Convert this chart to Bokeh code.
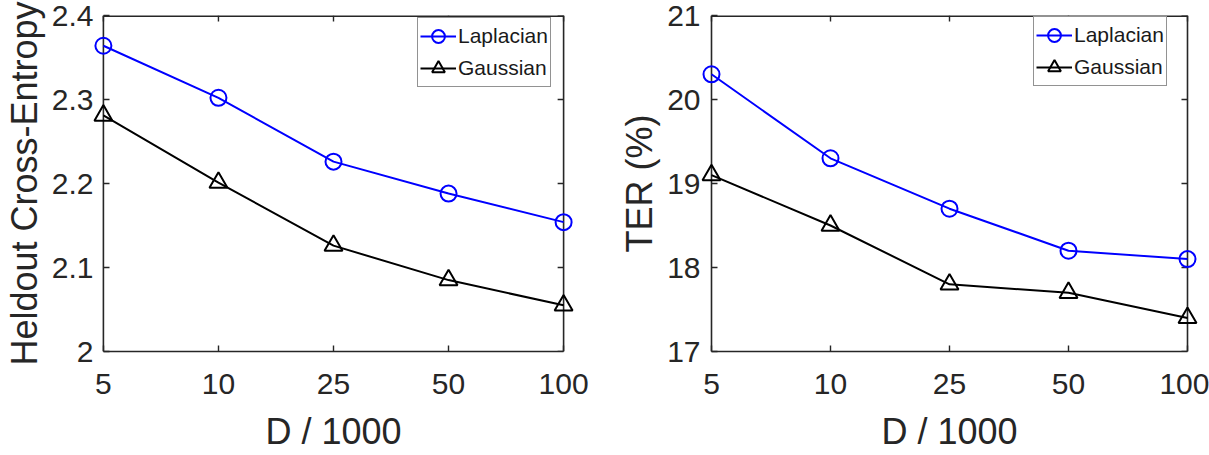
from bokeh.plotting import figure
from bokeh.models import Range1d, FixedTicker, Legend, LegendItem, Span
from bokeh.layouts import row
from bokeh.embed import file_html
from bokeh.resources import INLINE

# ---- data ----
d_labels = ["5", "10", "25", "50", "100"]
ce_laplacian = [2.364, 2.302, 2.226, 2.188, 2.154]
ce_gaussian = [2.281, 2.201, 2.126, 2.085, 2.055]
ter_laplacian = [20.30, 19.30, 18.70, 18.20, 18.10]
ter_gaussian = [19.10, 18.50, 17.80, 17.70, 17.40]
ce_ticks = [2.0, 2.1, 2.2, 2.3, 2.4]
ce_tick_labels = ["2", "2.1", "2.2", "2.3", "2.4"]
ter_ticks = [17, 18, 19, 20, 21]
ter_tick_labels = ["17", "18", "19", "20", "21"]
series_names = ["Laplacian", "Gaussian"]
xlabel = "D / 1000"
ylabel_left = "Heldout Cross-Entropy"
ylabel_right = "TER (%)"

FONT = "Liberation Sans"
AX = "#262626"
BLUE = "#0000ff"
BLACK = "#000000"
PAD = 12   # px of free space left/right of the box so edge markers are not clipped
TICK = 6
HEIGHT = 455
TOP = 15
BOTTOM = 104

xs = list(range(len(d_labels)))


def style_axis(ax, ticks, labels):
    ax.ticker = FixedTicker(ticks=ticks)
    ax.major_label_overrides = {t: l for t, l in zip(ticks, labels)}
    ax.axis_line_color = AX
    ax.axis_line_width = 1.6
    ax.major_tick_line_color = AX
    ax.major_tick_line_width = 1.4
    ax.major_tick_in = TICK
    ax.major_tick_out = 0
    ax.minor_tick_line_color = None
    ax.major_label_text_font = FONT
    ax.major_label_text_font_size = "30px"
    ax.major_label_text_color = AX
    ax.axis_label_text_font = FONT
    ax.axis_label_text_font_size = "36px"
    ax.axis_label_text_font_style = "normal"
    ax.axis_label_text_color = AX


def make_panel(y1, y2, yticks, ytick_labels, ylab, width, box_left, box_right,
               ylab_standoff, legend_xy):
    frame_w = width - (box_left - PAD) - (box_right - PAD)
    frame_h = HEIGHT - TOP - BOTTOM
    xpp = (xs[-1] - xs[0]) / (frame_w - 2 * PAD)   # data units per px
    ypp = (yticks[-1] - yticks[0]) / frame_h
    pad = PAD * xpp
    p = figure(width=width, height=HEIGHT, output_backend="svg", toolbar_location=None,
               x_range=Range1d(xs[0] - pad, xs[-1] + pad),
               y_range=Range1d(yticks[0], yticks[-1]),
               min_border_left=box_left - PAD, min_border_right=box_right - PAD,
               min_border_top=TOP, min_border_bottom=BOTTOM)
    p.background_fill_color = "white"
    p.border_fill_color = "white"
    p.outline_line_color = None
    p.xgrid.visible = False
    p.ygrid.visible = False

    xa = p.xaxis[0]
    ya = p.yaxis[0]
    style_axis(xa, xs, d_labels)
    style_axis(ya, yticks, ytick_labels)
    xa.bounds = (xs[0], xs[-1])
    xa.axis_label = xlabel
    xa.major_label_standoff = 22
    xa.axis_label_standoff = 14
    ya.axis_label = ylab
    ya.axis_line_color = None
    ya.major_tick_in = PAD + TICK
    ya.major_tick_out = -PAD
    ya.major_label_standoff = ylab_standoff
    ya.axis_label_standoff = 4

    # box: vertical sides at first/last category, top side along the frame top
    for loc in (xs[0], xs[-1]):
        p.add_layout(Span(location=loc, dimension="height", line_color=AX,
                          line_width=1.6, level="underlay"))
    p.segment(x0=[xs[0]], y0=[yticks[-1]], x1=[xs[-1]], y1=[yticks[-1]],
              line_color=AX, line_width=3.2, level="underlay")
    # mirrored inner ticks on top and right sides
    p.segment(x0=xs, y0=[yticks[-1]] * len(xs), x1=xs,
              y1=[yticks[-1] - TICK * ypp] * len(xs),
              line_color=AX, line_width=1.4, level="underlay")
    p.segment(x0=[xs[-1]] * len(yticks), y0=yticks,
              x1=[xs[-1] - TICK * xpp] * len(yticks), y1=yticks,
              line_color=AX, line_width=1.4, level="underlay")

    l1 = p.line(xs, y1, line_color=BLUE, line_width=2)
    s1 = p.scatter(xs, y1, marker="circle", size=16, line_color=BLUE,
                   line_width=2, fill_alpha=0)
    l2 = p.line(xs, y2, line_color=BLACK, line_width=2)
    s2 = p.scatter(xs, y2, marker="triangle", size=18, line_color=BLACK,
                   line_width=2, fill_alpha=0)

    legend = Legend(items=[LegendItem(label=series_names[0], renderers=[l1, s1]),
                           LegendItem(label=series_names[1], renderers=[l2, s2])],
                    location=legend_xy)
    legend.margin = 0
    legend.padding = 2
    legend.spacing = -6
    legend.glyph_width = 36
    legend.glyph_height = 32
    legend.label_height = 32
    legend.label_standoff = 2
    legend.label_text_font = FONT
    legend.label_text_font_size = "21px"
    legend.label_text_color = "#1a1a1a"
    legend.border_line_color = AX
    legend.border_line_width = 1.6
    legend.background_fill_color = "white"
    legend.background_fill_alpha = 1
    p.add_layout(legend, "center")
    return p


p1 = make_panel(ce_laplacian, ce_gaussian, ce_ticks, ce_tick_labels, ylabel_left,
                605, 99, 42, -2, (326, 264))
p2 = make_panel(ter_laplacian, ter_gaussian, ter_ticks, ter_tick_labels, ylabel_right,
                604, 106, 22, -1, (334, 265))

layout = row(p1, p2, spacing=0)
open("out.html", "w").write(file_html(layout, INLINE))
